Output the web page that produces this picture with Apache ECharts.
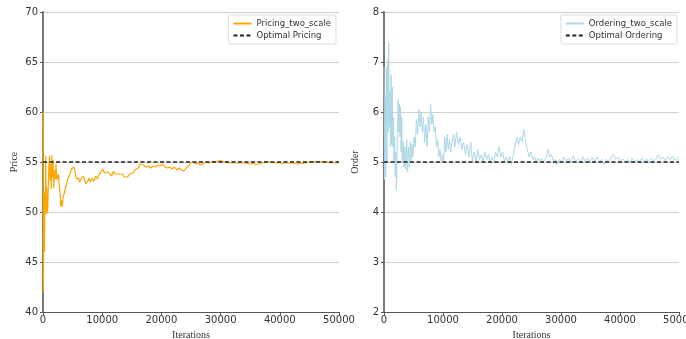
<!DOCTYPE html>
<html>
<head>
<meta charset="utf-8">
<script src="https://cdn.jsdelivr.net/npm/echarts@6/dist/echarts.min.js"></script>
<style>
  html, body { margin: 0; padding: 0; background: #fff; overflow: hidden; }
  #chart { width: 686px; height: 339px; }
</style>
</head>
<body>
<div id="chart"></div>
<script>
// price trajectory (left panel)
const priceIter = [0, 60, 120, 180, 240, 300, 380, 460, 540, 620, 700, 800, 900, 1000, 1100, 1200, 1300, 1400, 1500, 1600,
  1700, 1800, 1900, 2000, 2100, 2200, 2300, 2400, 2500, 2600, 2700, 2800, 2900, 3000, 3100, 3200, 3400, 3600, 3800, 4000,
  4200, 4400, 4600, 4800, 5000, 5200, 5400, 5600, 5800, 6000, 6200, 6400, 6600, 6800, 7000, 7200, 7400, 7600, 7800, 8000,
  8300, 8600, 8900, 9200, 9500, 9800, 10100, 10400, 10700, 11000, 11300, 11600, 11900, 12200, 12500, 12800, 13100, 13400, 13700, 14000,
  14300, 14600, 14900, 15200, 15500, 15800, 16100, 16400, 16700, 17000, 17400, 17800, 18200, 18600, 19000, 19400, 19800, 20200, 20600, 21000,
  21400, 21800, 22200, 22600, 23000, 23400, 23800, 24200, 24600, 25000, 25400, 25800, 26200, 26600, 27000, 27500, 28000, 28500, 29000, 29500,
  30000, 30500, 31000, 31500, 32000, 32500, 33000, 33500, 34000, 34500, 35000, 35500, 36000, 36500, 37000, 37500, 38000, 38500, 39000, 39500,
  40000, 40500, 41000, 41500, 42000, 42500, 43000, 43500, 44000, 44500, 45000, 45500, 46000, 46500, 47000, 47500, 48000, 48500, 49000, 49500, 50000];
const priceVals = [60, 42, 47, 52, 46, 50, 51, 55.6, 49.8, 52.5, 49.9, 50.2, 52.8, 54.5, 55.6, 53.1, 54.8, 52.3, 55.7, 53.5,
  55.2, 52.4, 53.4, 54.2, 53.3, 54.8, 53.2, 53.7, 53.3, 53.8, 52.9, 53.1, 51.9, 50.6, 51.2, 50.5, 51.5, 51.9, 52.4, 52.8,
  53.3, 53.6, 53.9, 54.3, 54.1, 54.5, 54.1, 53.3, 53.1, 53.4, 53.0, 53.3, 53.1, 53.6, 53.3, 52.8, 52.6, 53.1, 53.4, 53.0,
  53.4, 53.1, 53.6, 53.3, 53.8, 54.0, 54.3, 53.9, 53.7, 54.0, 53.8, 53.6, 54.1, 53.8, 53.6, 53.8, 53.6, 53.8, 53.5, 53.7,
  53.5, 53.8, 53.6, 53.9, 54.2, 54.1, 54.4, 54.8, 54.6, 54.7, 54.5, 54.6, 54.4, 54.6, 54.5, 54.7, 54.6, 54.8, 54.5, 54.4,
  54.5, 54.3, 54.5, 54.2, 54.4, 54.2, 54.1, 54.4, 54.6, 54.9, 55.0, 54.8, 54.9, 54.7, 54.8, 55.0, 54.9, 55.0, 55.0, 55.1,
  55.15, 55.0, 55.0, 54.9, 54.95, 54.9, 54.9, 54.95, 54.9, 54.85, 54.8, 54.85, 54.75, 54.8, 54.9, 54.95, 55.0, 55.0, 54.95, 54.9,
  54.9, 54.85, 54.95, 54.9, 54.9, 54.85, 54.8, 54.9, 54.85, 54.95, 55.0, 55.05, 55.05, 55.0, 55.05, 54.95, 55.0, 54.9, 54.95, 54.9, 55.0];

// order trajectory (right panel)
const orderIter = [0, 100, 200, 300, 400, 500, 600, 700, 800, 900, 1000, 1100, 1200, 1300, 1400, 1500, 1600, 1700, 1800, 1900,
  2000, 2100, 2200, 2400, 2500, 2600, 2700, 2800, 2900, 3000, 3100, 3250, 3400, 3550, 3700, 3850, 4000, 4150, 4300, 4450,
  4600, 4750, 4900, 5100, 5300, 5500, 5700, 5900, 6100, 6300, 6500, 6700, 6900, 7100, 7300, 7500, 7700, 7900, 8100, 8300,
  8500, 8700, 8900, 9100, 9300, 9500, 9700, 9900, 10100, 10300, 10500, 10700, 10900, 11100, 11300, 11500, 11800, 12000, 12300, 12600,
  12900, 13200, 13500, 13800, 14100, 14400, 14700, 15000, 15300, 15600, 15900, 16200, 16500, 16800, 17100, 17400, 17700, 18000, 18300, 18600,
  18900, 19200, 19500, 19800, 20100, 20400, 20700, 21000, 21300, 21600, 21900, 22200, 22500, 22800, 23100, 23400, 23700, 24000, 24300, 24600,
  24900, 25200, 25500, 25800, 26100, 26400, 26700, 27000, 27400, 27800, 28100, 28400, 28700, 29000, 29300, 29700, 30100, 30500, 30900, 31300,
  31700, 32100, 32500, 32900, 33300, 33700, 34100, 34500, 34900, 35300, 35700, 36100, 36500, 36900, 37300, 37700, 38100, 38500, 38900, 39300,
  39700, 40100, 40500, 40900, 41300, 41700, 42100, 42500, 42900, 43300, 43700, 44100, 44500, 44900, 45300, 45700, 46100, 46500, 46900, 47300,
  47700, 48100, 48500, 48900, 49300, 49700, 50000];
const orderVals = [6.9, 4.65, 6.3, 4.7, 6.9, 5.0, 7.05, 5.6, 7.4, 5.7, 6.4, 5.3, 6.75, 5.35, 6.5, 5.3, 5.9, 5.0, 5.5, 4.7,
  5.2, 4.45, 5.0, 6.25, 5.6, 6.15, 5.5, 6.1, 5.2, 5.9, 5.0, 5.4, 4.9, 5.3, 4.85, 5.45, 4.8, 5.3, 4.9, 5.4,
  5.0, 5.35, 5.1, 5.5, 5.3, 5.85, 5.55, 6.05, 5.7, 6.0, 5.6, 5.9, 5.4, 5.75, 5.3, 5.9, 5.6, 6.15, 5.75, 5.95,
  5.6, 5.7, 5.3, 5.45, 5.1, 5.25, 5.0, 5.15, 4.98, 5.5, 5.2, 5.55, 5.25, 5.45, 5.2, 5.4, 5.55, 5.3, 5.6, 5.35,
  5.5, 5.25, 5.4, 5.15, 5.35, 5.1, 5.4, 4.98, 5.2, 5.0, 5.25, 5.05, 5.15, 5.0, 5.2, 5.05, 5.15, 5.0, 5.1, 5.0,
  5.2, 5.1, 5.3, 5.1, 5.2, 5.0, 5.1, 5.0, 5.12, 4.95, 5.15, 5.3, 5.5, 5.35, 5.5, 5.4, 5.65, 5.4, 5.25, 5.1,
  5.2, 5.05, 5.1, 5.0, 5.08, 5.02, 5.08, 5.0, 5.06, 5.25, 5.1, 5.15, 5.0, 5.05, 4.95, 5.05, 5.0, 5.1, 5.02, 5.08,
  5.0, 5.12, 5.0, 5.06, 4.98, 5.1, 5.02, 5.08, 5.0, 5.1, 5.0, 5.1, 5.0, 5.05, 4.95, 5.05, 5.0, 5.1, 5.15, 5.05,
  5.1, 5.02, 5.06, 5.0, 5.05, 5.0, 5.08, 5.0, 5.05, 5.0, 5.08, 5.0, 5.06, 5.0, 5.08, 5.02, 5.06, 5.15, 5.05, 5.1,
  5.02, 5.1, 5.05, 5.12, 5.03, 5.08, 5.05];

const optimalPrice = 55;
const optimalOrder = 5;

const chart = echarts.init(document.getElementById('chart'));

const zip = (xs, ys) => xs.map((x, i) => [x, ys[i]]);

const labelStyle = { color: '#333', fontSize: 10, fontFamily: 'DejaVu Sans' };
const nameStyle = { color: '#333', fontSize: 10, fontFamily: 'Liberation Serif' };

function xAxisFor(gridIndex) {
  return {
    type: 'value',
    gridIndex,
    min: 0,
    max: 50000,
    interval: 10000,
    name: 'Iterations',
    nameLocation: 'middle',
    nameGap: 16,
    nameTextStyle: nameStyle,
    axisLine: { lineStyle: { color: '#555', width: 1 } },
    axisTick: { show: true, length: 3, lineStyle: { color: '#555' } },
    axisLabel: { ...labelStyle, margin: 3, formatter: (v) => String(v) },
    splitLine: { show: false }
  };
}

function yAxisFor(gridIndex, min, max, interval, name) {
  return {
    type: 'value',
    gridIndex,
    min,
    max,
    interval,
    name,
    nameLocation: 'middle',
    nameGap: 24,
    nameTextStyle: nameStyle,
    axisLine: { show: true, lineStyle: { color: '#777', width: 2 } },
    axisTick: { show: true, length: 3, lineStyle: { color: '#555' } },
    axisLabel: { ...labelStyle, margin: 5 },
    splitLine: { show: true, lineStyle: { color: '#d0d0d0', width: 1 } }
  };
}

function legendFor(names, right) {
  return {
    data: names,
    orient: 'vertical',
    right,
    top: 15,
    itemWidth: 18,
    itemHeight: 8,
    itemGap: 3,
    padding: [4, 5, 4, 4],
    borderColor: '#ddd',
    borderWidth: 1,
    borderRadius: 2,
    itemStyle: { opacity: 0 },
    textStyle: { fontSize: 8.5, color: '#333', fontFamily: 'DejaVu Sans' }
  };
}

const option = {
  backgroundColor: '#fff',
  animation: false,
  grid: [
    { left: 43, right: 347, top: 12, bottom: 27, containLabel: false, outerBoundsMode: 'none' },
    { left: 384, right: 7, top: 12, bottom: 27, containLabel: false, outerBoundsMode: 'none' }
  ],
  xAxis: [xAxisFor(0), xAxisFor(1)],
  yAxis: [
    yAxisFor(0, 40, 70, 5, 'Price'),
    yAxisFor(1, 2, 8, 1, 'Order')
  ],
  legend: [
    legendFor(['Pricing_two_scale', 'Optimal Pricing'], 350),
    legendFor(['Ordering_two_scale', 'Optimal Ordering'], 9)
  ],
  series: [
    {
      name: 'Pricing_two_scale',
      type: 'line',
      xAxisIndex: 0,
      yAxisIndex: 0,
      data: zip(priceIter, priceVals),
      symbol: 'none',
      lineStyle: { color: '#ffa500', width: 1.2 },
      itemStyle: { color: '#ffa500' }
    },
    {
      name: 'Optimal Pricing',
      type: 'line',
      xAxisIndex: 0,
      yAxisIndex: 0,
      data: [[0, optimalPrice], [50000, optimalPrice]],
      symbol: 'none',
      lineStyle: { color: '#222', width: 1.3, type: [4, 2.5] },
      itemStyle: { color: '#222' }
    },
    {
      name: 'Ordering_two_scale',
      type: 'line',
      xAxisIndex: 1,
      yAxisIndex: 1,
      data: zip(orderIter, orderVals),
      symbol: 'none',
      lineStyle: { color: '#add8e6', width: 1 },
      itemStyle: { color: '#add8e6' }
    },
    {
      name: 'Optimal Ordering',
      type: 'line',
      xAxisIndex: 1,
      yAxisIndex: 1,
      data: [[0, optimalOrder], [50000, optimalOrder]],
      symbol: 'none',
      lineStyle: { color: '#222', width: 1.3, type: [4, 2.5] },
      itemStyle: { color: '#222' }
    }
  ]
};

chart.setOption(option);
</script>
</body>
</html>
